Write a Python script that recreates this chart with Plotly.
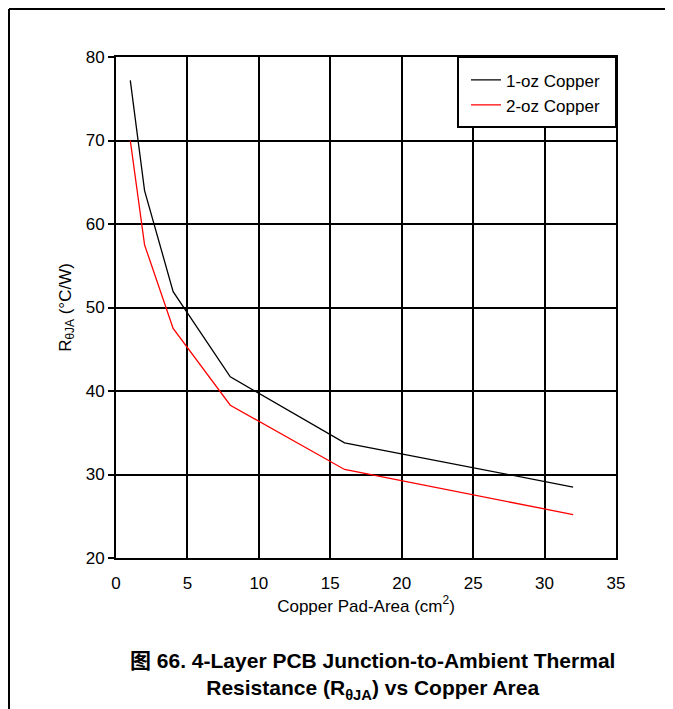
import plotly.graph_objects as go

# copper pad area (cm^2) and thermal resistance (°C/W)
area = [1, 2, 4, 8, 16, 32]
r_1oz = [77.2, 64.0, 51.9, 41.7, 33.8, 28.5]
r_2oz = [70.0, 57.5, 47.5, 38.3, 30.6, 25.2]

x_ticks = [0, 5, 10, 15, 20, 25, 30, 35]
y_ticks = [20, 30, 40, 50, 60, 70, 80]

FONT = 'Liberation Sans, Arial, sans-serif'

fig = go.Figure()
fig.add_trace(go.Scatter(x=area, y=r_1oz, mode='lines', name='1-oz Copper',
                         line=dict(color='black', width=1.3)))
fig.add_trace(go.Scatter(x=area, y=r_2oz, mode='lines', name='2-oz Copper',
                         line=dict(color='#ff0000', width=1.3)))

axis_common = dict(showline=True, linecolor='black', linewidth=2, mirror=True,
                   showgrid=True, gridcolor='black', gridwidth=2,
                   zeroline=False, tickfont=dict(size=17, color='black'))

fig.update_xaxes(range=[0, 35], tickvals=x_ticks, ticks='', ticklabelstandoff=9,
                 title=dict(text='Copper Pad-Area (cm<sup>2</sup>)',
                            font=dict(size=17, color='black'), standoff=6),
                 **axis_common)
fig.update_yaxes(range=[20, 80], tickvals=y_ticks, ticks='outside', ticklen=6,
                 tickcolor='black', tickwidth=2,
                 title=dict(text='R<sub>θJA</sub> (°C/W)',
                            font=dict(size=17, color='black'), standoff=10),
                 **axis_common)

# outer figure frame (top and left only)
fig.add_shape(type='line', xref='paper', yref='paper', x0=-0.214, x1=1.2,
              y0=1.0958, y1=1.0958, line=dict(color='black', width=2))
fig.add_shape(type='line', xref='paper', yref='paper', x0=-0.214, x1=-0.214,
              y0=1.0958, y1=-0.33, line=dict(color='black', width=2))

# legend box
fig.add_shape(type='rect', xref='paper', yref='paper', x0=0.684, x1=1,
              y0=0.8603, y1=1, layer='above', fillcolor='white',
              line=dict(color='black', width=2))

# caption
fig.add_annotation(xref='paper', yref='paper', x=0.512, y=-0.2355, yanchor='middle',
                   showarrow=False, align='center',
                   text='<b>图 66. 4-Layer PCB Junction-to-Ambient Thermal<br>'
                        'Resistance (R<sub>θJA</sub>) vs Copper Area</b>',
                   font=dict(size=21, color='black',
                             family='Liberation Sans, Arial, Noto Sans CJK SC'))

fig.update_layout(
    width=673, height=709,
    margin=dict(l=108, r=65, t=49, b=159),
    paper_bgcolor='white', plot_bgcolor='white',
    font=dict(family=FONT, color='black'),
    showlegend=True,
    legend=dict(x=0.70, xanchor='left', y=0.9894, yanchor='top',
                bgcolor='rgba(0,0,0,0)', borderwidth=0,
                font=dict(size=17, color='black')),
)

fig.write_html('out.html')
